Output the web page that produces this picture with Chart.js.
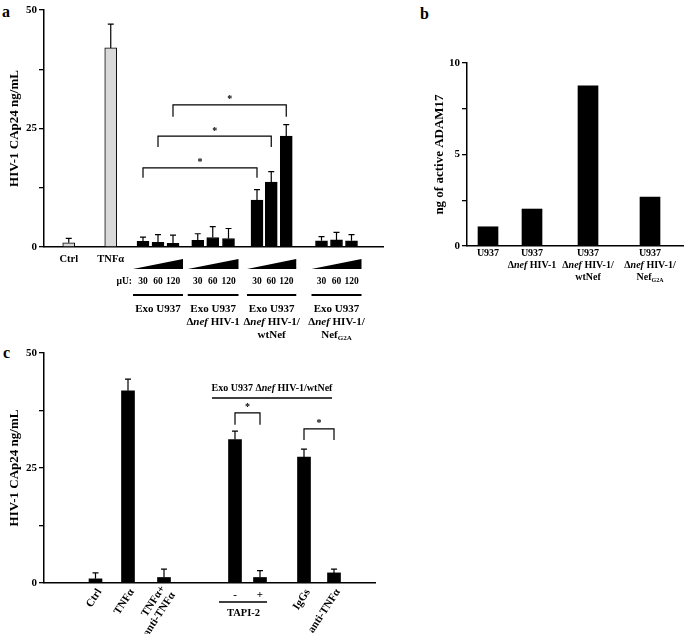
<!DOCTYPE html>
<html>
<head>
<meta charset="utf-8">
<script src="https://cdn.jsdelivr.net/npm/chart.js@4.4.1/dist/chart.umd.min.js"></script>
<style>
  body { margin: 0; background: #fff; }
  #fig { position: relative; width: 685px; height: 634px; background: #fff; font-family: "Liberation Serif", serif; }
  .panel { position: absolute; }
  .letter { position: absolute; font-weight: bold; font-size: 16px; line-height: 16px; }
</style>
</head>
<body>
<div id="fig">
  <div class="letter" style="left:2px;top:4px">a</div>
  <div class="letter" style="left:420px;top:6px">b</div>
  <div class="letter" style="left:3px;top:345px">c</div>
  <div class="panel" style="left:0;top:0;width:400px;height:346px"><canvas id="chartA"></canvas></div>
  <div class="panel" style="left:400px;top:0;width:285px;height:300px"><canvas id="chartB"></canvas></div>
  <div class="panel" style="left:0;top:340px;width:400px;height:294px"><canvas id="chartC"></canvas></div>
</div>
<script>
const SERIF = '"Liberation Serif", "DejaVu Serif", serif';

// ---- panel a: HIV-1 CAp24 release ----
const labelsA = ['Ctrl', 'TNFα', '30', '60', '120', '30', '60', '120', '30', '60', '120', '30', '60', '120'];
const valuesA = [0.9, 42.0, 1.2, 1.0, 0.8, 1.4, 2.0, 1.8, 9.9, 13.7, 23.4, 1.3, 1.5, 1.3];
const errorsA = [0.9, 5.0, 0.9, 1.6, 1.7, 1.4, 2.3, 2.1, 2.2, 2.2, 2.4, 0.9, 1.6, 1.3];
const groupsA = [
  { from: 2, to: 4, lines: ['Exo U937'] },
  { from: 5, to: 7, lines: ['Exo U937', 'Δ<i>nef</i> HIV-1'] },
  { from: 8, to: 10, lines: ['Exo U937', 'Δ<i>nef</i> HIV-1/', 'wtNef'] },
  { from: 11, to: 13, lines: ['Exo U937', 'Δ<i>nef</i> HIV-1/', 'Nef<sub>G2A</sub>'] }
];
const ticksA = [0, 25, 50];

// ---- panel b: active ADAM17 ----
const labelsB = [
  ['U937'],
  ['U937', 'Δ<i>nef</i> HIV-1'],
  ['U937', 'Δ<i>nef</i> HIV-1/', 'wtNef'],
  ['U937', 'Δ<i>nef</i> HIV-1/', 'Nef<sub>G2A</sub>']
];
const valuesB = [1.05, 2.02, 8.75, 2.68];
const ticksB = [0, 5, 10];

// ---- panel c: inhibitors ----
const labelsC = [['Ctrl'], ['TNFα'], ['TNFα+', 'anti-TNFα'], ['-'], ['+'], ['IgGs'], ['anti-TNFα']];
const valuesC = [0.9, 41.8, 1.2, 31.2, 1.2, 27.4, 2.2];
const errorsC = [1.3, 2.5, 1.8, 1.8, 1.5, 1.7, 0.8];
const ticksC = [0, 25, 50];

// layout: bar slots on a linear x axis, brackets (bar i, bar j, level, leg px)
const slotA = [1.65, 4.45, 6.6, 7.6, 8.6, 10.25, 11.25, 12.3, 14.2, 15.15, 16.15, 18.5, 19.5, 20.5];
const slotB = [2.1, 6.5, 12.1, 18.3];
const slotC = [5.15, 8.4, 12.0, 19.1, 21.6, 26.0, 29.0];
const bracketsA = [[2, 8, 16.7, 10], [3, 9, 23.4, 11], [4, 10, 30.0, 12]];
const bracketsC = [[3, 4, 37.0, 12], [5, 6, 33.5, 11]];

function font(size, style) {
  return (style || '') + ' bold ' + size + 'px ' + SERIF;
}

// centred text with <i>..</i> and <sub>..</sub> runs
function drawRich(ctx, str, x, y, size) {
  const parts = str.split(/(<i>.*?<\/i>|<sub>.*?<\/sub>)/).filter(Boolean).map(p => {
    if (p.startsWith('<i>')) return { t: p.slice(3, -4), f: font(size, 'italic'), dy: 0 };
    if (p.startsWith('<sub>')) return { t: p.slice(5, -6), f: font(Math.round(size * 0.62)), dy: size * 0.32 };
    return { t: p, f: font(size), dy: 0 };
  });
  let w = 0;
  parts.forEach(p => { ctx.font = p.f; p.w = ctx.measureText(p.t).width; w += p.w; });
  let cx = x - w / 2;
  ctx.textAlign = 'left';
  ctx.textBaseline = 'middle';
  parts.forEach(p => { ctx.font = p.f; ctx.fillText(p.t, cx, y + p.dy); cx += p.w; });
}

const errorBars = {
  id: 'errorBars',
  afterDatasetsDraw(chart) {
    const ds = chart.data.datasets[0];
    if (!ds.errors) return;
    const { ctx } = chart;
    const y = chart.scales.y;
    ctx.save();
    ctx.strokeStyle = '#000';
    ctx.lineWidth = 1.2;
    chart.getDatasetMeta(0).data.forEach((bar, i) => {
      const top = y.getPixelForValue(ds.data[i].y + ds.errors[i]);
      ctx.beginPath();
      ctx.moveTo(bar.x, bar.y);
      ctx.lineTo(bar.x, top);
      ctx.moveTo(bar.x - 3, top);
      ctx.lineTo(bar.x + 3, top);
      ctx.stroke();
    });
    ctx.restore();
  }
};

function drawBrackets(chart, list) {
  const { ctx } = chart;
  const y = chart.scales.y;
  const bars = chart.getDatasetMeta(0).data;
  ctx.save();
  ctx.strokeStyle = '#000';
  ctx.lineWidth = 1.2;
  ctx.fillStyle = '#000';
  list.forEach(([a, b, level, drop]) => {
    const py = y.getPixelForValue(level);
    const x1 = bars[a].x, x2 = bars[b].x;
    ctx.beginPath();
    ctx.moveTo(x1, py + drop);
    ctx.lineTo(x1, py);
    ctx.lineTo(x2, py);
    ctx.lineTo(x2, py + drop);
    ctx.stroke();
    ctx.font = font(10);
    ctx.textAlign = 'center';
    ctx.textBaseline = 'middle';
    ctx.fillText('*', (x1 + x2) / 2, py - 5);
  });
  ctx.restore();
}

function yAxis(max, step, ticks, title, width, pad) {
  return {
    min: 0, max: max,
    ticks: {
      stepSize: step, autoSkip: false, padding: 2, color: '#000',
      font: { family: SERIF, size: 11, weight: 'bold' },
      callback: v => ticks.includes(v) ? v : ''
    },
    grid: { display: true, drawOnChartArea: false, drawTicks: true, tickLength: 5, color: '#000', lineWidth: 1.3 },
    border: { display: true, color: '#000', width: 1.5 },
    title: {
      display: true, text: title, color: '#000',
      font: { family: SERIF, size: 13, weight: 'bold' },
      padding: { top: pad, bottom: 0 }
    },
    afterFit(s) { s.width = width; }
  };
}

function xAxis(max, height) {
  return {
    type: 'linear', min: 0, max: max, offset: false,
    ticks: { display: false },
    grid: { display: false },
    border: { display: true, color: '#000', width: 1.5 },
    afterFit(s) { s.height = height; }
  };
}

const common = {
  responsive: true,
  maintainAspectRatio: false,
  animation: false,
  plugins: { legend: { display: false }, tooltip: { enabled: false } }
};

// ---------- panel a ----------
new Chart(document.getElementById('chartA'), {
  type: 'bar',
  data: {
    datasets: [{
      data: valuesA.map((v, i) => ({ x: slotA[i], y: v })),
      errors: errorsA,
      backgroundColor: labelsA.map((l, i) => i < 2 ? '#d9d9d9' : '#000'),
      borderColor: '#000',
      borderWidth: 1,
      barThickness: 12
    }]
  },
  options: Object.assign({}, common, {
    layout: { padding: { top: 10, right: 17, left: 0, bottom: 0 } },
    scales: { x: xAxis(22.6, 99), y: yAxis(50, 12.5, ticksA, 'HIV-1 CAp24 ng/mL', 44, 7) }
  }),
  plugins: [errorBars, {
    id: 'labelsA',
    afterDraw(chart) {
      const { ctx, chartArea } = chart;
      const bars = chart.getDatasetMeta(0).data;
      const b = chartArea.bottom;
      drawBrackets(chart, bracketsA);
      ctx.save();
      ctx.fillStyle = '#000';
      ctx.strokeStyle = '#000';
      drawRich(ctx, labelsA[0], bars[0].x, b + 12, 10.5);
      drawRich(ctx, labelsA[1], bars[1].x, b + 12, 10.5);
      groupsA.forEach((g, gi) => {
        const x1 = bars[g.from].x - 10, x2 = bars[g.to].x + 10;
        ctx.beginPath();
        ctx.moveTo(x1, b + 22);
        ctx.lineTo(x2, b + 22);
        ctx.lineTo(x2, b + 12);
        ctx.closePath();
        ctx.fill();
        for (let i = g.from; i <= g.to; i++) drawRich(ctx, labelsA[i], bars[i].x, b + 35, 9.5);
        if (gi === 0) {
          ctx.font = font(9.5);
          ctx.textAlign = 'right';
          ctx.fillText('µU:', x1 - 1, b + 35);
        }
        ctx.lineWidth = 2;
        ctx.beginPath();
        ctx.moveTo(x1, b + 48);
        ctx.lineTo(x2, b + 48);
        ctx.stroke();
        g.lines.forEach((t, k) => drawRich(ctx, t, (x1 + x2) / 2, b + 62 + k * 13, 11));
      });
      ctx.restore();
    }
  }]
});

// ---------- panel b ----------
new Chart(document.getElementById('chartB'), {
  type: 'bar',
  data: {
    datasets: [{
      data: valuesB.map((v, i) => ({ x: slotB[i], y: v })),
      backgroundColor: '#000',
      barThickness: 20
    }]
  },
  options: Object.assign({}, common, {
    layout: { padding: { top: 63, right: 2, left: 0, bottom: 0 } },
    scales: { x: xAxis(21.6, 54), y: yAxis(10, 2.5, ticksB, 'ng of active ADAM17', 67, 32) }
  }),
  plugins: [{
    id: 'labelsB',
    afterDraw(chart) {
      const { ctx, chartArea } = chart;
      const bars = chart.getDatasetMeta(0).data;
      ctx.save();
      ctx.fillStyle = '#000';
      labelsB.forEach((lines, i) => {
        lines.forEach((t, k) => drawRich(ctx, t, bars[i].x, chartArea.bottom + 7 + k * 12, 10));
      });
      ctx.restore();
    }
  }]
});

// ---------- panel c ----------
new Chart(document.getElementById('chartC'), {
  type: 'bar',
  data: {
    datasets: [{
      data: valuesC.map((v, i) => ({ x: slotC[i], y: v })),
      errors: errorsC,
      backgroundColor: '#000',
      barThickness: 13
    }]
  },
  options: Object.assign({}, common, {
    layout: { padding: { top: 13, right: 25, left: 0, bottom: 0 } },
    scales: { x: xAxis(33.1, 51), y: yAxis(50, 12.5, ticksC, 'HIV-1 CAp24 ng/mL', 44, 7) }
  }),
  plugins: [errorBars, {
    id: 'labelsC',
    afterDraw(chart) {
      const { ctx, chartArea } = chart;
      const bars = chart.getDatasetMeta(0).data;
      const b = chartArea.bottom;
      const xs = chart.scales.x;
      drawBrackets(chart, bracketsC);
      ctx.save();
      ctx.fillStyle = '#000';
      ctx.strokeStyle = '#000';
      // rotated category labels
      [0, 1, 2, 5, 6].forEach(i => {
        const lines = labelsC[i];
        ctx.save();
        ctx.translate(bars[i].x + 4, b + 7);
        ctx.rotate(-57 * Math.PI / 180);
        ctx.font = font(11);
        ctx.textAlign = 'right';
        ctx.textBaseline = 'middle';
        lines.forEach((t, k) => ctx.fillText(t, 0, (k - (lines.length - 1) / 2) * 12));
        ctx.restore();
      });
      // TAPI-2 -/+
      drawRich(ctx, labelsC[3][0], bars[3].x, b + 12, 11);
      drawRich(ctx, labelsC[4][0], bars[4].x, b + 12, 11);
      ctx.lineWidth = 1.5;
      ctx.beginPath();
      ctx.moveTo(bars[3].x - 16, b + 19);
      ctx.lineTo(bars[4].x + 7, b + 19);
      ctx.stroke();
      drawRich(ctx, 'TAPI-2', (bars[3].x + bars[4].x) / 2 - 4, b + 30, 10.5);
      // header over the exosome-treated bars
      const hx = xs.getPixelForValue(22.8);
      drawRich(ctx, 'Exo U937 Δ<i>nef</i> HIV-1/wtNef', hx, chartArea.top + 35, 10);
      ctx.beginPath();
      ctx.moveTo(hx - 60, chartArea.top + 45);
      ctx.lineTo(hx + 60, chartArea.top + 45);
      ctx.stroke();
      ctx.restore();
    }
  }]
});
</script>
</body>
</html>
